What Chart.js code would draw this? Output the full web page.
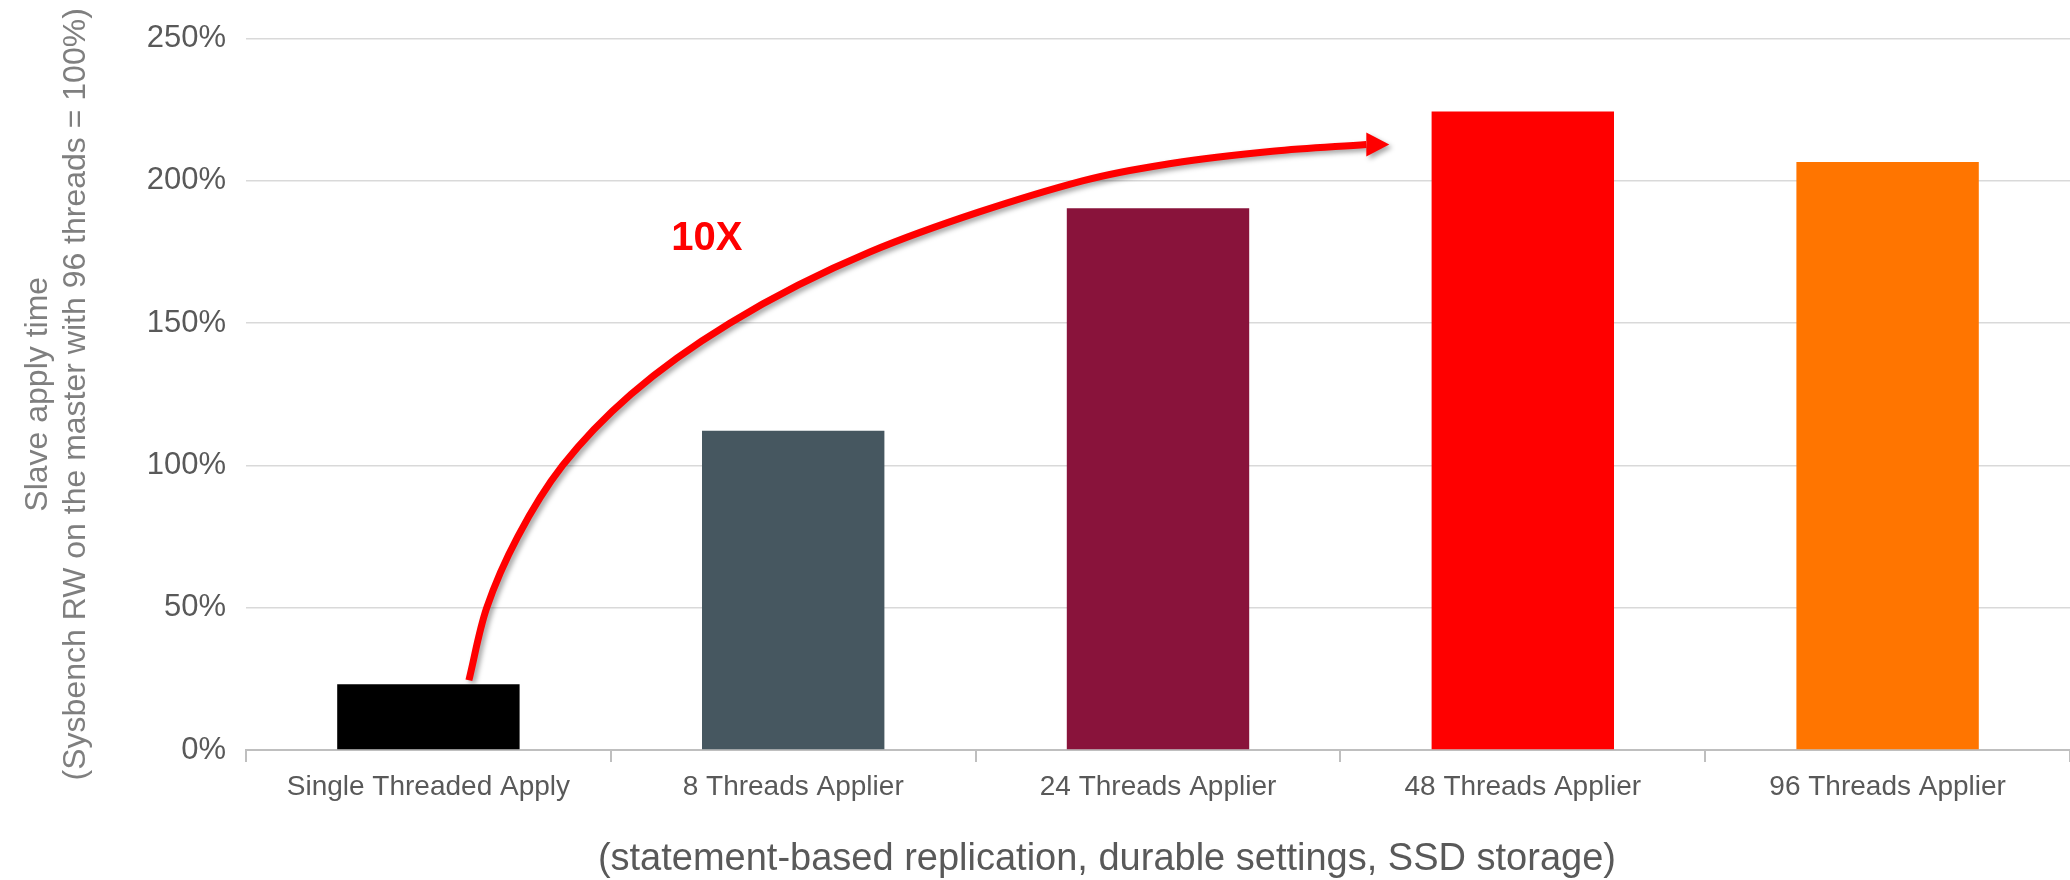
<!DOCTYPE html>
<html>
<head>
<meta charset="utf-8">
<script src="https://cdn.jsdelivr.net/npm/chart.js@4"></script>
<style>
  html, body { margin: 0; padding: 0; background: #ffffff; }
  #chart { display: block; }
</style>
</head>
<body>
<canvas id="chart" width="2070" height="880"></canvas>
<script>
// data
const categories = ['Single Threaded Apply', '8 Threads Applier', '24 Threads Applier', '48 Threads Applier', '96 Threads Applier'];
const applyTime = [23.1, 112.2, 190.4, 224.4, 206.6];
const barColors = ['#000000', '#465760', '#89133B', '#FF0000', '#FF7500'];
const yTicks = [0, 50, 100, 150, 200, 250];

// arrow annotation, in data units: [category index, percent]
const arrowPath = [
    [0.111, 24.5], [0.160, 50], [0.245, 75], [0.368, 100], [0.555, 125],
    [0.826, 150], [1.210, 175], [1.793, 200], [2.040, 206.2], [2.314, 210.4],
    [2.571, 212.8]
];
const arrowTip = [2.634, 212.8];
const arrowLabel = ['10X', 0.763, 179.5];

const xTitle = '(statement-based replication, durable settings, SSD storage)';
const xTitlePos = 1.86;
const yTitle = ['Slave apply time', '(Sysbench RW on the master with 96 threads = 100%)'];

const FONT = '"Liberation Sans", Arial, sans-serif';

// centripetal catmull-rom control points for segment p1 -> p2
function controlPoints(p0, p1, p2, p3) {
    const dist = (a, b) => Math.pow(Math.hypot(b[0] - a[0], b[1] - a[1]), 0.5);
    const d1 = dist(p0, p1), d2 = dist(p1, p2), d3 = dist(p2, p3);
    const c1 = [0, 1].map(k =>
        (d1 * d1 * p2[k] - d2 * d2 * p0[k] + (2 * d1 * d1 + 3 * d1 * d2 + d2 * d2) * p1[k]) / (3 * d1 * (d1 + d2)));
    const c2 = [0, 1].map(k =>
        (d3 * d3 * p1[k] - d2 * d2 * p3[k] + (2 * d3 * d3 + 3 * d3 * d2 + d2 * d2) * p2[k]) / (3 * d3 * (d3 + d2)));
    return [c1, c2];
}

// draws the curved arrow, its label and the x axis title
const annotations = {
    id: 'annotations',
    afterDatasetsDraw(chart) {
        const ctx = chart.ctx;
        const xs = chart.scales.x;
        const ys = chart.scales.y;
        const pts = arrowPath.map(p => [xs.getPixelForValue(p[0]), ys.getPixelForValue(p[1])]);
        const tip = [xs.getPixelForValue(arrowTip[0]), ys.getPixelForValue(arrowTip[1])];
        const n = pts.length;
        const first = [2 * pts[0][0] - pts[1][0], 2 * pts[0][1] - pts[1][1]];
        const last = [2 * pts[n - 1][0] - pts[n - 2][0], 2 * pts[n - 1][1] - pts[n - 2][1]];
        const ext = [first, ...pts, last];

        ctx.save();
        ctx.shadowColor = 'rgba(0, 0, 0, 0.35)';
        ctx.shadowBlur = 5;
        ctx.shadowOffsetX = 3;
        ctx.shadowOffsetY = 3;
        ctx.strokeStyle = '#FF0000';
        ctx.fillStyle = '#FF0000';
        ctx.lineWidth = 7;
        ctx.lineCap = 'butt';
        ctx.lineJoin = 'round';

        ctx.beginPath();
        ctx.moveTo(pts[0][0], pts[0][1]);
        for (let i = 1; i < ext.length - 2; i++) {
            const [c1, c2] = controlPoints(ext[i - 1], ext[i], ext[i + 1], ext[i + 2]);
            ctx.bezierCurveTo(c1[0], c1[1], c2[0], c2[1], ext[i + 1][0], ext[i + 1][1]);
        }
        ctx.stroke();

        // arrow head
        const base = pts[n - 1];
        const dx = tip[0] - base[0];
        const dy = tip[1] - base[1];
        const len = Math.sqrt(dx * dx + dy * dy);
        const nx = -dy / len;
        const ny = dx / len;
        const half = 12;
        ctx.beginPath();
        ctx.moveTo(tip[0], tip[1]);
        ctx.lineTo(base[0] + nx * half, base[1] + ny * half);
        ctx.lineTo(base[0] - nx * half, base[1] - ny * half);
        ctx.closePath();
        ctx.fill();
        ctx.restore();

        // 10X label
        ctx.save();
        ctx.font = 'bold 40px ' + FONT;
        ctx.fillStyle = '#FF0000';
        ctx.textAlign = 'center';
        ctx.textBaseline = 'middle';
        ctx.fillText(arrowLabel[0], xs.getPixelForValue(arrowLabel[1]), ys.getPixelForValue(arrowLabel[2]));
        ctx.restore();

        // x axis title
        ctx.save();
        ctx.font = '38px ' + FONT;
        ctx.fillStyle = '#595959';
        ctx.textAlign = 'center';
        ctx.textBaseline = 'alphabetic';
        ctx.fillText(xTitle, xs.getPixelForValue(xTitlePos), chart.height - 10);
        ctx.restore();
    }
};

new Chart(document.getElementById('chart'), {
    type: 'bar',
    data: {
        labels: categories,
        datasets: [{
            data: applyTime,
            backgroundColor: barColors,
            borderWidth: 0,
            barPercentage: 0.5,
            categoryPercentage: 1.0
        }]
    },
    options: {
        responsive: false,
        animation: false,
        devicePixelRatio: 1,
        layout: { padding: { top: 37, right: 0, bottom: 0, left: 0 } },
        plugins: {
            legend: { display: false },
            tooltip: { enabled: false }
        },
        scales: {
            x: {
                afterFit(scale) { scale.height = 130; },
                grid: {
                    offset: true,
                    drawOnChartArea: false,
                    drawTicks: true,
                    tickLength: 12,
                    color: '#bfbfbf',
                    lineWidth: 2
                },
                border: { color: '#bfbfbf', width: 2 },
                ticks: {
                    padding: 8,
                    color: '#595959',
                    font: { family: FONT, size: 28 },
                    maxRotation: 0,
                    autoSkip: false
                }
            },
            y: {
                min: 0,
                max: 250,
                afterFit(scale) { scale.width = 246; },
                afterBuildTicks(scale) { scale.ticks = yTicks.map(v => ({ value: v })); },
                grid: {
                    color: '#d9d9d9',
                    lineWidth: 1.5,
                    drawTicks: false
                },
                border: { display: false },
                ticks: {
                    padding: 20,
                    color: '#595959',
                    font: { family: FONT, size: 31 },
                    callback: v => v + '%'
                },
                title: {
                    display: true,
                    text: yTitle,
                    color: '#7f7f7f',
                    font: { family: FONT, size: 32, lineHeight: 1.19 },
                    padding: { top: 19, bottom: 0 }
                }
            }
        }
    },
    plugins: [annotations]
});
</script>
</body>
</html>
